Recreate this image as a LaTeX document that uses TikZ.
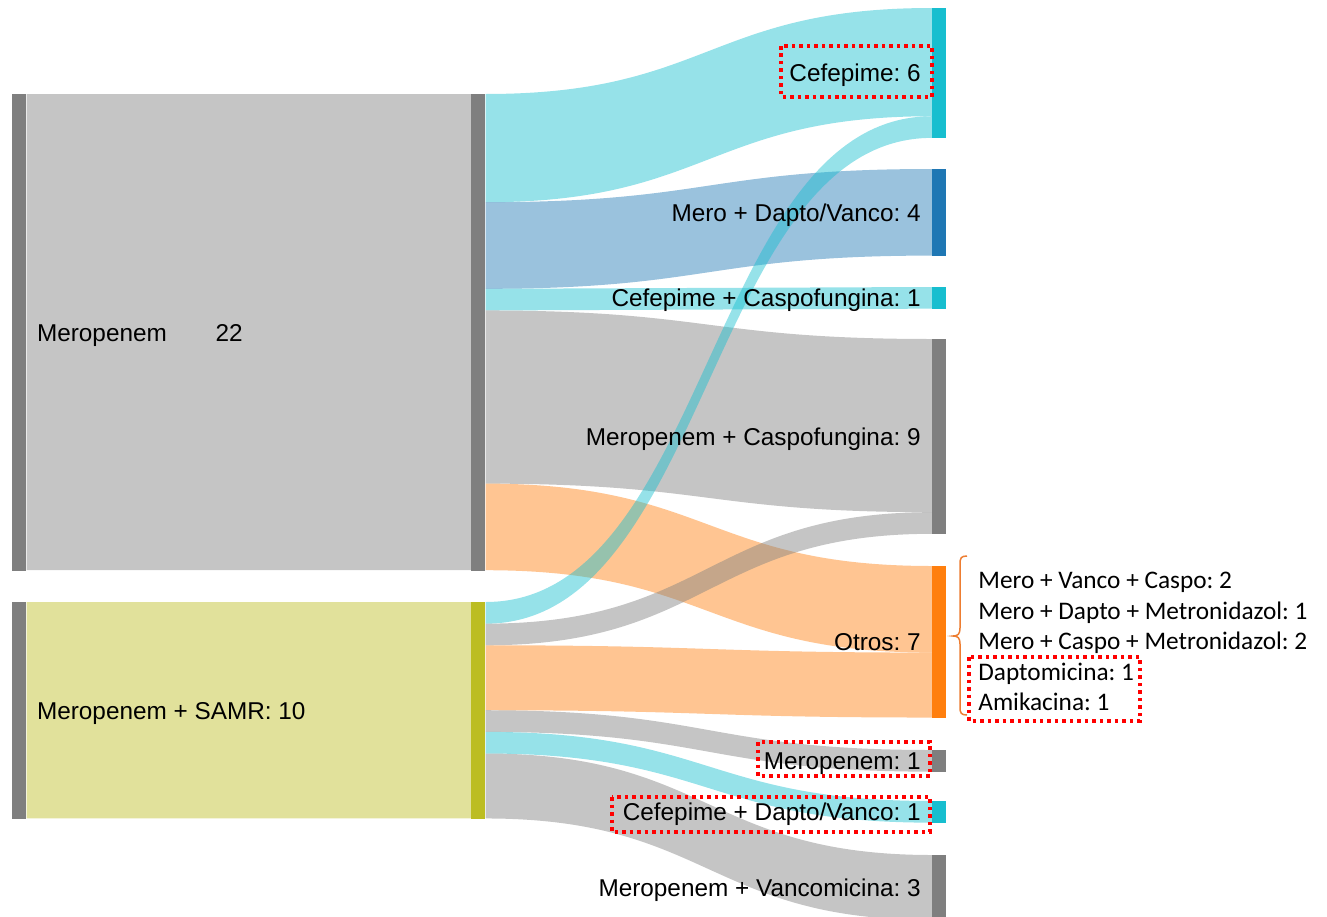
\documentclass[tikz,border=0pt]{standalone}
\usepackage{fontspec}
\usetikzlibrary{positioning,calc}

\newfontfamily\plotfont{Liberation Sans}
\newfontfamily\notefont{Carlito}

\definecolor{nodegray}{HTML}{7F7F7F}
\definecolor{nodecyan}{HTML}{17BECF}
\definecolor{nodeblue}{HTML}{1F77B4}
\definecolor{nodeorange}{HTML}{FF7F0E}
\definecolor{nodeolive}{HTML}{BCBD22}
\definecolor{bracecol}{HTML}{ED7D31}

% one patient = this much height
\newcommand\U{0.433cm}
% band: colour, from node, offset there, to node, offset there, value
\newcommand\flow[6]{%
  \fill[#1,fill opacity=.45] let \p1=(#2.north east), \p2=(#4.north west), \n1={(\x1+\x2)/2},
    \n2={\y1-#3*\U}, \n3={\y1-(#3+#6)*\U}, \n4={\y2-#5*\U}, \n5={\y2-(#5+#6)*\U} in
    (\x1,\n2) .. controls (\n1,\n2) and (\n1,\n4) .. (\x2,\n4)
    -- (\x2,\n5) .. controls (\n1,\n5) and (\n1,\n3) .. (\x1,\n3) -- cycle;
}

\begin{document}
\frenchspacing
\begin{tikzpicture}[x=0.02cm,y=-0.02cm,
	bar/.style={rectangle,fill=#1,draw=none,inner sep=0pt,minimum width=0.28cm,anchor=north west},
	lab/.style={font=\plotfont\fontsize{13.85pt}{16pt}\selectfont,inner sep=0pt,text height=9.9pt,text depth=0pt},
	note/.style={font=\notefont\fontsize{14.4pt}{17pt}\selectfont,inner sep=0pt,text height=9pt,text depth=0pt,anchor=west},
	reddots/.style={draw=red,line width=0.066cm,dash pattern=on 0.07cm off 0.08cm}]
	\useasboundingbox (0,0) rectangle (1327,916);
	\clip (0,0) rectangle (1327,916);

	% first column
	\node[bar=nodegray, minimum height=22*\U] (l1) at (12,94) {};
	\node[bar=nodegray, minimum height=10*\U] (l2) at (12,602) {};
	% second column
	\node[bar=nodegray, minimum height=22*\U] (m1) at (471,94) {};
	\node[bar=nodeolive, minimum height=10*\U] (m2) at (471,602) {};
	% last column
	\node[bar=nodecyan, minimum height=6*\U] (r1) at (932,8) {};
	\node[bar=nodeblue, minimum height=4*\U] (r2) at (932,169) {};
	\node[bar=nodecyan, minimum height=1*\U] (r3) at (932,287) {};
	\node[bar=nodegray, minimum height=9*\U] (r4) at (932,339) {};
	\node[bar=nodeorange, minimum height=7*\U] (r5) at (932,566) {};
	\node[bar=nodegray, minimum height=1*\U] (r6) at (932,750) {};
	\node[bar=nodecyan, minimum height=1*\U] (r7) at (932,801) {};
	\node[bar=nodegray, minimum height=3*\U] (r8) at (932,855) {};

	\flow{nodegray}{l1}{0}{m1}{0}{22}
	\flow{nodeolive}{l2}{0}{m2}{0}{10}

	\flow{nodecyan}{m1}{0}{r1}{0}{5}
	\flow{nodeblue}{m1}{5}{r2}{0}{4}
	\flow{nodecyan}{m1}{9}{r3}{0}{1}
	\flow{nodegray}{m1}{10}{r4}{0}{8}
	\flow{nodeorange}{m1}{18}{r5}{0}{4}

	\flow{nodecyan}{m2}{0}{r1}{5}{1}
	\flow{nodegray}{m2}{1}{r4}{8}{1}
	\flow{nodeorange}{m2}{2}{r5}{4}{3}
	\flow{nodegray}{m2}{5}{r6}{0}{1}
	\flow{nodecyan}{m2}{6}{r7}{0}{1}
	\flow{nodegray}{m2}{7}{r8}{0}{3}

	\node[lab, right=0.2cm of l1] (lm) {Meropenem};
	\node[lab, right=0.96cm of lm] (lmv) {22};
	\node[lab, right=0.2cm of l2] (ls) {Meropenem + SAMR: 10};

	\node[lab, left=0.22cm of r1] (t1) {Cefepime: 6};
	\node[lab, left=0.22cm of r2] (t2) {Mero + Dapto/Vanco: 4};
	\node[lab, left=0.22cm of r3] (t3) {Cefepime + Caspofungina: 1};
	\node[lab, left=0.22cm of r4] (t4) {Meropenem + Caspofungina: 9};
	\node[lab, left=0.22cm of r5] (t5) {Otros: 7};
	\node[lab, left=0.22cm of r6] (t6) {Meropenem: 1};
	\node[lab, left=0.22cm of r7] (t7) {Cefepime + Dapto/Vanco: 1};
	\node[lab, left=0.22cm of r8] (t8) {Meropenem + Vancomicina: 3};

	% what Otros holds
	\draw[bracecol, line width=0.03cm] (967,556) .. controls (961,556) and (960,558) .. (960,564) -- (960,628)
		.. controls (960,634) and (958,636) .. (953,636) .. controls (958,636) and (960,638) .. (960,644)
		-- (960,707) .. controls (960,713) and (961,715) .. (967,715);
	\foreach \t [count=\i] in {Mero + Vanco + Caspo: 2, Mero + Dapto + Metronidazol: 1,
		Mero + Caspo + Metronidazol: 2, Daptomicina: 1, Amikacina: 1}
		\node[note] (n\i) at (978, 550.5+30.5*\i) {\t};

	\draw[reddots] (781,46) rectangle (932,97);
	\draw[reddots] (758,742) rectangle (930,776);
	\draw[reddots] (612,797) rectangle (930,832);
	\draw[reddots] (969,657) rectangle (1140,721);

\end{tikzpicture}
\end{document}
